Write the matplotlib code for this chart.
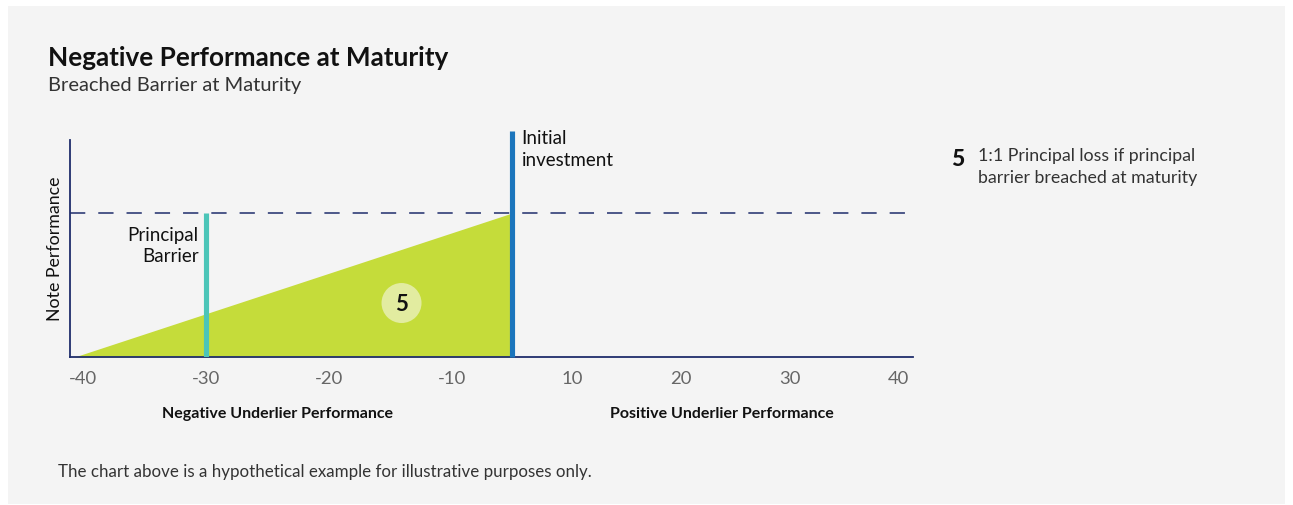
import numpy as np
import matplotlib
matplotlib.use('Agg')
import matplotlib.pyplot as plt
from matplotlib.patches import Rectangle

# data
tick_values = [-40, -30, -20, -10, 10, 20, 30, 40]
tick_labels = ['-40', '-30', '-20', '-10', '10', '20', '30', '40']
loss_x = [-40.7, 0]        # underlier performance, start of loss -> initial investment
loss_y = [0, 100]          # note performance
barrier_x = -30
barrier_level = 100
initial_x = 0
marker_pos = (-14.1, 37.5)

NAVY = '#1f2d6b'
LIME = '#c5dc3a'
TEAL = '#4cc5b8'
BLUE = '#1b75bc'

plt.rcParams['font.family'] = ['Lato', 'DejaVu Sans']

# piecewise x scale: the negative side is wider than the positive side
xp = np.array([-100.0, -10.0, 10.0, 100.0])
fp = np.array([-90 * 12.3, 0.0, 120.0, 120.0 + 90 * 10.9])

def fwd(x):
    return np.interp(x, xp, fp)

def inv(u):
    return np.interp(u, fp, xp)

fig = plt.figure(figsize=(12.93, 5.06), dpi=100)
fig.patch.set_facecolor('white')
fig.patches.append(Rectangle((8 / 1293, 1 / 506), 1277 / 1293, 498 / 506,
                             transform=fig.transFigure, facecolor='#f4f4f4',
                             edgecolor='none', zorder=-10))

ax = fig.add_axes([70 / 1293, 148 / 506, 843 / 1293, 226 / 506])
ax.set_facecolor('none')
ax.set_xscale('function', functions=(fwd, inv))
ax.set_xlim(-41.06, 41.3)
ax.set_ylim(0, 157)

# loss area
ax.fill_between(loss_x, loss_y, 0, color=LIME, linewidth=0, zorder=1)
# barrier level dashed
ax.axhline(barrier_level, color=NAVY, lw=1.1, dashes=(10, 8.5), zorder=2)
# principal barrier line
ax.plot([barrier_x, barrier_x], [0, barrier_level], color=TEAL, lw=3.7,
        solid_capstyle='butt', zorder=3)
# initial investment line
ax.plot([initial_x, initial_x], [0, 157], color=BLUE, lw=3.7,
        solid_capstyle='butt', zorder=3, clip_on=False)

ax.scatter([marker_pos[0]], [marker_pos[1]], s=830, color='#e2eca0',
           edgecolors='none', zorder=4)
ax.text(marker_pos[0], marker_pos[1], '5', ha='center', va='center',
        fontsize=16, fontweight='bold', color='#111111', zorder=5)

for s in ['top', 'right']:
    ax.spines[s].set_visible(False)
for s in ['left', 'bottom']:
    ax.spines[s].set_color(NAVY)
    ax.spines[s].set_linewidth(1.3)
ax.spines['left'].set_bounds(0, 151)

ax.set_xticks(tick_values)
ax.set_xticklabels(tick_labels)
ax.set_yticks([])
ax.tick_params(axis='x', length=0, pad=9, labelsize=13.3, labelcolor='#666666')
ax.minorticks_off()

ax.text(1.6, 158.5, 'Initial\ninvestment', ha='left', va='top', fontsize=13.5,
        color='#111111', linespacing=1.35)
ax.text(-30.6, 91, 'Principal\nBarrier', ha='right', va='top', fontsize=13.5,
        color='#111111', linespacing=1.25)

fig.text(55 / 1293, 1 - 249 / 506, 'Note Performance', rotation=90,
         ha='center', va='center', fontsize=12.8, color='#111111')

fig.text(48 / 1293, 1 - 58 / 506, 'Negative Performance at Maturity',
         ha='left', va='center', fontsize=18.8, fontweight='bold', color='#111111')
fig.text(48 / 1293, 1 - 86 / 506, 'Breached Barrier at Maturity',
         ha='left', va='center', fontsize=14.5, color='#333333')

fig.text(277 / 1293, 1 - 414 / 506, 'Negative Underlier Performance',
         ha='center', va='center', fontsize=11.5, fontweight='bold', color='#111111')
fig.text(722 / 1293, 1 - 414 / 506, 'Positive Underlier Performance',
         ha='center', va='center', fontsize=11.5, fontweight='bold', color='#111111')

fig.text(58 / 1293, 1 - 472 / 506,
         'The chart above is a hypothetical example for illustrative purposes only.',
         ha='left', va='center', fontsize=12.2, color='#333333')

fig.text(958 / 1293, 1 - 160 / 506, '5', ha='center', va='center',
         fontsize=16.5, fontweight='black', color='#111111')
fig.text(978 / 1293, 1 - 148 / 506, '1:1 Principal loss if principal\nbarrier breached at maturity',
         ha='left', va='top', fontsize=12.8, color='#333333', linespacing=1.45)

fig.savefig('out.png', dpi=100, facecolor=fig.get_facecolor())
